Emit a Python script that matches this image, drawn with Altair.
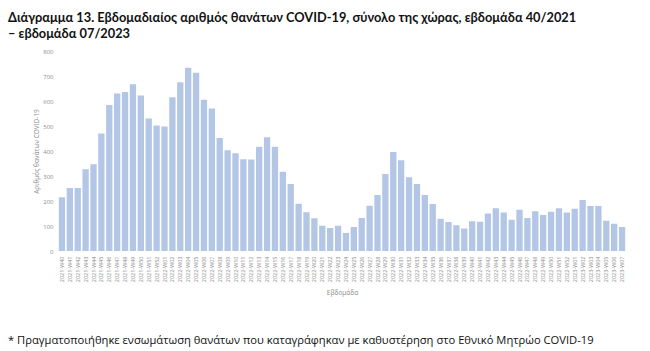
import altair as alt
import pandas as pd

weeks_2021 = [f"2021-W{w:02d}" for w in range(40, 53)]
weeks_2022 = [f"2022-W{w:02d}" for w in range(1, 53)]
weeks_2023 = [f"2023-W{w:02d}" for w in range(1, 8)]
weeks = weeks_2021 + weeks_2022 + weeks_2023

deaths_2021 = [215, 252, 252, 327, 347, 470, 584, 630, 636, 667, 622, 530, 502]
deaths_2022 = [498, 615, 675, 733, 713, 605, 570, 452, 403, 391,
               367, 366, 417, 455, 417, 317, 268, 189, 155, 131,
               101, 92, 101, 72, 96, 132, 181, 224, 308, 396,
               363, 295, 268, 224, 188, 129, 116, 103, 90, 119,
               117, 150, 171, 154, 125, 165, 132, 159, 144, 157,
               171, 154]
deaths_2023 = [169, 204, 180, 180, 121, 109, 96]
deaths = deaths_2021 + deaths_2022 + deaths_2023

df = pd.DataFrame({"week": weeks, "deaths": deaths})

title_lines = ["Διάγραμμα 13. Εβδομαδιαίος αριθμός θανάτων COVID-19, σύνολο της χώρας, εβδομάδα 40/2021",
               "– εβδομάδα 07/2023"]
footnote = "* Πραγματοποιήθηκε ενσωμάτωση θανάτων που καταγράφηκαν με καθυστέρηση στο Εθνικό Μητρώο COVID-19"

FONT = "Open Sans"
GRAY = "#8c8c8c"

bars = alt.Chart(df).mark_bar(color="#b4c6e6").encode(
    x=alt.X("week:N", sort=weeks,
            scale=alt.Scale(paddingInner=0.2, paddingOuter=0.1),
            axis=alt.Axis(title="Εβδομάδα", labelAngle=270, labelFontSize=5.5,
                          labelColor=GRAY, labelFont=FONT, ticks=False, domain=False,
                          labelPadding=5, titleFont=FONT, titleFontSize=6.5,
                          titleColor=GRAY, titleFontWeight="normal", titlePadding=8)),
    y=alt.Y("deaths:Q", scale=alt.Scale(domain=[0, 800]),
            axis=alt.Axis(title="Αριθμός θανάτων COVID-19", values=list(range(0, 801, 100)),
                          grid=False, ticks=False, domain=False, labelFontSize=6,
                          labelColor=GRAY, labelFont=FONT, labelPadding=5,
                          titleFont=FONT, titleFontSize=6.5, titleColor=GRAY,
                          titleFontWeight="normal", titlePadding=3)),
)

foot = alt.Chart(pd.DataFrame({"t": [footnote]})).mark_text(
    align="left", baseline="middle", font=FONT, fontSize=11.2, color="#111111"
).encode(x=alt.value(-50), y=alt.value(290), text="t:N")

chart = alt.layer(bars, foot).properties(
    width=568, height=200,
    autosize=alt.AutoSizeParams(type="none"),
    padding={"left": 58, "top": 51, "right": 24, "bottom": 100},
    title=alt.TitleParams(text=title_lines, anchor="start", frame="group", dx=-50, offset=7,
                          font="Lato", fontSize=12.8, fontWeight="bold",
                          color="#111111", lineHeight=16.5),
).configure_view(stroke=None)

chart.save("out.html", embed_options={"renderer": "svg", "actions": False})
